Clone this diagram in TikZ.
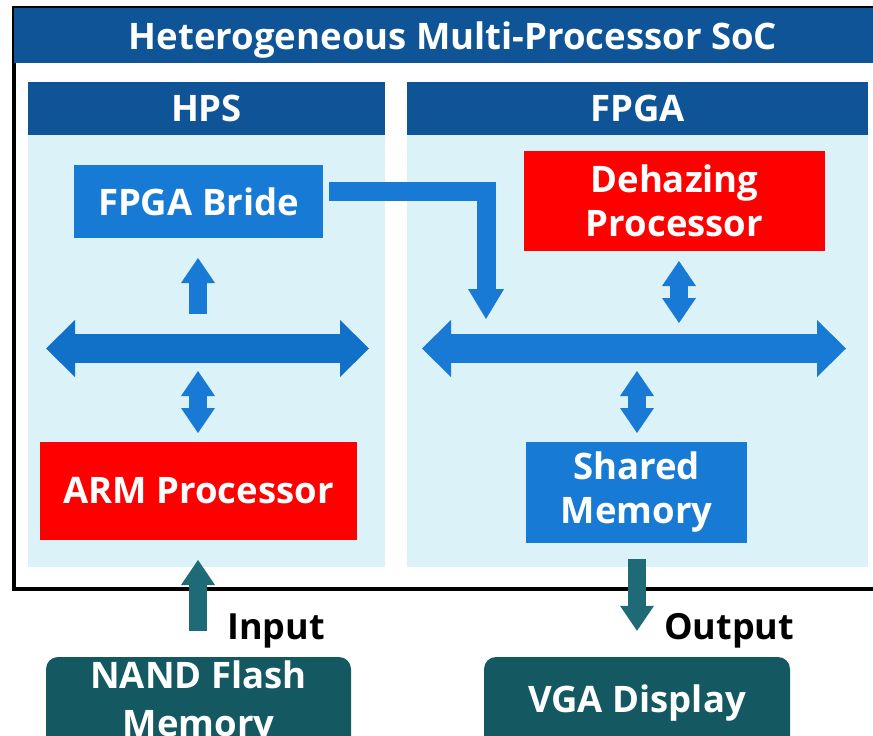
\documentclass[tikz,border=0pt]{standalone}
\usepackage{fontspec}
\setmainfont{Open Sans}
\usetikzlibrary{arrows.meta,calc}
\definecolor{headblue}{RGB}{15,84,150}
\definecolor{bodycyan}{RGB}{219,243,248}
\definecolor{boxblue}{RGB}{23,122,212}
\definecolor{arrowblue}{RGB}{24,122,212}
\definecolor{busblue}{RGB}{17,112,200}
\definecolor{boxred}{RGB}{255,0,0}
\definecolor{tealarrow}{RGB}{30,106,118}
\definecolor{tealbox}{RGB}{20,88,98}
\tikzset{
  SmallT/.tip={Triangle[length=25pt 0 0,width=34pt 0 0,line width=0pt 0 0]},
  BendT/.tip={Triangle[length=30pt 0 0,width=36pt 0 0,line width=0pt 0 0]},
  BusT/.tip={Triangle[length=29pt 0 0,width=57pt 0 0,line width=0pt 0 0]},
  headbar/.style={fill=headblue,text=white,inner sep=0pt,font=\bfseries\fontsize{36.5}{40}\selectfont},
  bodyarea/.style={fill=bodycyan,inner sep=0pt},
  boxtext/.style={text=white,inner sep=0pt,align=center,font=\bfseries\fontsize{36.5}{44}\selectfont},
  bluebox/.style={boxtext,fill=boxblue},
  redbox/.style={boxtext,fill=boxred},
  tbox/.style={boxtext,fill=tealbox,rounded corners=12pt,font=\bfseries\fontsize{36.5}{48}\selectfont},
  thinarrow/.style={line width=18pt,draw=arrowblue,line join=miter},
  busarrow/.style={line width=29pt,draw=busblue},
  ioarrow/.style={line width=18pt,draw=tealarrow},
  iolabel/.style={text=black,inner sep=0pt,anchor=base west,font=\bfseries\fontsize{36}{40}\selectfont}
}
\begin{document}
\begin{tikzpicture}[x=1pt,y=-1pt]
\useasboundingbox (0,0) rectangle (873,736);
\clip (0,0) rectangle (873,736);
% outer frame and title bar
\draw[line width=3.5pt] (14,7.5) rectangle (900,589);
\node[headbar,minimum width=890pt,minimum height=55pt,anchor=north west] (titlebar) at (14,8) {};
\node[text=white,inner sep=0pt,font=\bfseries\fontsize{36.5}{40}\selectfont] (title) at (453,40.5) {Heterogeneous Multi-Processor SoC};
% section headers and bodies
\node[headbar,minimum width=357pt,minimum height=53pt] (hpshead) at (206.5,108.5) {HPS};
\node[headbar,minimum width=461pt,minimum height=53pt] (fpgahead) at (637.5,108.5) {FPGA};
\node[bodyarea,minimum width=357pt,minimum height=432pt,anchor=north] (hpsbody) at (hpshead.south) {};
\node[bodyarea,minimum width=461pt,minimum height=432pt,anchor=north] (fpgabody) at (fpgahead.south) {};
% boxes
\node[bluebox,minimum width=249pt,minimum height=73pt] (bridge) at (198.5,201.5) {FPGA Bride};
\node[redbox,minimum width=301pt,minimum height=100pt] (dehaze) at (674.5,201) {Dehazing\\Processor};
\node[redbox,minimum width=317pt,minimum height=98pt] (arm) at (198.5,491) {ARM Processor};
\node[bluebox,minimum width=221pt,minimum height=101pt] (shmem) at (636.5,492.5) {Shared\\Memory};
\node[tbox,minimum width=305pt,minimum height=92pt] (nand) at (198.5,703) {NAND Flash\\Memory};
\node[tbox,minimum width=306pt,minimum height=92pt] (vga) at (637,703) {VGA Display};
% arrow end points
\coordinate (hbusL) at (46,348.5);
\coordinate (hbusR) at (369,348.5);
\coordinate (fbusL) at (422,348.5);
\coordinate (fbusR) at (846,348.5);
\coordinate (upS) at (198,314);
\coordinate (upE) at (198,258);
\coordinate (hdA) at (198,371);
\coordinate (hdB) at (198,433);
\coordinate (dhA) at (679,261);
\coordinate (dhB) at (679,323);
\coordinate (smA) at (637,371);
\coordinate (smB) at (637,433);
\coordinate (bendS) at ($(bridge.east)+(6,-10)$);
\coordinate (bendE) at (486,319);
\coordinate (inS) at ($(nand.north)+(-0.5,-26)$);
\coordinate (inE) at (198,560);
\coordinate (outS) at (637,559);
\coordinate (outE) at ($(vga.north)+(0,-26)$);
% arrows
\draw[busarrow,{BusT}-{BusT}] (hbusL) -- (hbusR);
\draw[busarrow,draw=arrowblue,{BusT}-{BusT}] (fbusL) -- (fbusR);
\draw[thinarrow,-{SmallT}] (upS) -- (upE);
\draw[thinarrow,{SmallT}-{SmallT}] (hdA) -- (hdB);
\draw[thinarrow,{SmallT}-{SmallT}] (dhA) -- (dhB);
\draw[thinarrow,{SmallT}-{SmallT}] (smA) -- (smB);
\draw[thinarrow,line width=19pt,-{BendT}] (bendS) -| (bendE);
\draw[ioarrow,-{SmallT}] (inS) -- (inE);
\draw[ioarrow,-{SmallT}] (outS) -- (outE);
% labels
\node[iolabel] (inlbl) at (227,639) {Input};
\node[iolabel] (outlbl) at (664,639) {Output};
\end{tikzpicture}
\end{document}
